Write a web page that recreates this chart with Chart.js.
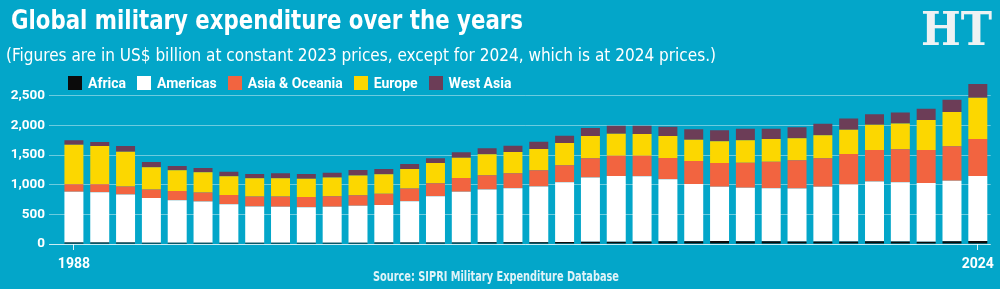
<!DOCTYPE html>
<html>
<head>
<meta charset="utf-8">
<script src="https://cdn.jsdelivr.net/npm/chart.js@4.4.1/dist/chart.umd.min.js"></script>
<style>
  html, body { margin: 0; padding: 0; }
  body {
    width: 1000px; height: 289px; overflow: hidden; position: relative;
    background: #03a6c9; color: #fff;
    font-family: 'Liberation Sans Narrow', 'DejaVu Sans Condensed', Roboto, sans-serif;
  }
  #chart { position: absolute; left: 0; top: 0; }
  .txt { position: absolute; white-space: nowrap; line-height: 1; transform-origin: 0 0; }
  #title { left: 11px; top: 7px; font-size: 26px; font-weight: bold; }
  #subtitle { left: 6px; top: 46px; font-size: 18px; }
  #source { top: 269px; font-size: 14px; font-weight: bold; color: #dff3f8; }
  #logo { left: 921px; top: 6px; font-family: 'DejaVu Serif', serif; font-size: 46px; font-weight: bold; color: #eef2f3; }
  #legend { position: absolute; left: 68px; top: 75px; display: flex; align-items: center; }
  .item { display: flex; align-items: center; margin-right: 11px; font-family: Roboto, sans-serif; font-size: 14px; font-weight: bold; }
  .sw { width: 14px; height: 14px; margin-right: 6px; }
</style>
</head>
<body>
<canvas id="chart" width="1000" height="289"></canvas>
<div id="title" class="txt">Global military expenditure over the years</div>
<div id="subtitle" class="txt">(Figures are in US$ billion at constant 2023 prices, except for 2024, which is at 2024 prices.)</div>
<div id="legend"></div>
<div id="source" class="txt">Source: SIPRI Military Expenditure Database</div>
<div id="logo" class="txt">HT</div>
<script>
// no world total for 1991 in SIPRI, so that year is skipped
let years = ["1988", "1989", "1990", "1992", "1993", "1994", "1995", "1996", "1997", "1998",
  "1999", "2000", "2001", "2002", "2003", "2004", "2005", "2006", "2007", "2008",
  "2009", "2010", "2011", "2012", "2013", "2014", "2015", "2016", "2017", "2018",
  "2019", "2020", "2021", "2022", "2023", "2024"];

let africa = [27, 26, 25, 22, 21, 22, 20, 19, 19, 21, 22, 23, 24, 25, 25, 27, 28, 29, 31, 35,
  38, 39, 44, 45, 48, 50, 48, 45, 43, 43, 44, 45, 43, 40, 45, 52];
let americas = [853, 849, 809, 752, 719, 695, 651, 612, 608, 597, 605, 621, 632, 698, 782, 853, 890, 913, 938, 1008,
  1082, 1110, 1100, 1048, 966, 914, 899, 897, 892, 921, 958, 1008, 1000, 991, 1020, 1097];
let asiaOceania = [129, 134, 135, 144, 156, 151, 156, 169, 174, 175, 180, 180, 190, 212, 219, 235, 243, 252, 276, 286,
  327, 341, 346, 359, 387, 403, 425, 447, 478, 483, 517, 533, 555, 555, 583, 622];
let europe = [666, 644, 589, 377, 349, 343, 315, 309, 309, 307, 313, 330, 331, 332, 341, 342, 353, 358, 358, 375,
  375, 370, 365, 370, 358, 365, 377, 382, 370, 386, 408, 425, 437, 505, 577, 695];
let westAsia = [74, 68, 95, 89, 72, 72, 77, 72, 84, 79, 84, 96, 90, 84, 80, 90, 101, 106, 123, 123,
  134, 135, 140, 156, 175, 185, 195, 173, 185, 195, 192, 180, 185, 190, 207, 235];

let yTicks = [0, 500, 1000, 1500, 2000, 2500];

const TICKFONT = "Roboto, sans-serif";

let datasets = [
  { label: "Africa", data: africa, backgroundColor: "#0b0b0b" },
  { label: "Americas", data: americas, backgroundColor: "#ffffff" },
  { label: "Asia & Oceania", data: asiaOceania, backgroundColor: "#f26440" },
  { label: "Europe", data: europe, backgroundColor: "#fcd700" },
  { label: "West Asia", data: westAsia, backgroundColor: "#6c3d57" }
];

let chart = new Chart("chart", {
  type: "bar",
  data: { labels: years, datasets: datasets },
  options: {
    responsive: false,
    animation: false,
    locale: "en-US",
    layout: { padding: { top: 81, right: 9, left: 0, bottom: 0 } },
    datasets: { bar: { categoryPercentage: 1, barPercentage: 0.735, borderWidth: 0 } },
    plugins: { legend: { display: false }, tooltip: { enabled: false } },
    scales: {
      x: {
        stacked: true,
        border: { display: false },
        grid: {
          offset: false,
          drawOnChartArea: false,
          tickLength: 6,
          color: (ctx) => (ctx.index === 0 || ctx.index === years.length - 1) ? "rgba(255,255,255,0.85)" : "rgba(0,0,0,0)"
        },
        ticks: {
          autoSkip: false,
          maxRotation: 0,
          padding: 6,
          color: "#ffffff",
          font: { family: TICKFONT, size: 14, weight: "bold" },
          callback: (v, i) => (i === 0 || i === years.length - 1) ? years[i] : ""
        },
        afterFit: (s) => { s.height = 45; }
      },
      y: {
        stacked: true,
        min: 0,
        max: 2750,
        border: { display: false },
        grid: {
          tickLength: 12,
          color: (ctx) => ctx.tick && ctx.tick.value === 0 ? "rgba(255,255,255,0.8)" : "rgba(255,255,255,0.42)"
        },
        ticks: {
          stepSize: 500,
          includeBounds: false,
          padding: 4,
          color: "#ffffff",
          font: { family: TICKFONT, size: 13.5, weight: "bold" }
        },
        afterBuildTicks: (s) => { s.ticks = yTicks.map(v => ({ value: v })); },
        afterFit: (s) => { s.width = 61; }
      }
    }
  }
});

// legend built from the datasets
let legend = document.getElementById("legend");
datasets.forEach(d => {
  let item = document.createElement("div");
  item.className = "item";
  let sw = document.createElement("div");
  sw.className = "sw";
  sw.style.background = d.backgroundColor;
  let t = document.createElement("span");
  t.textContent = d.label;
  item.appendChild(sw);
  item.appendChild(t);
  legend.appendChild(item);
});

function fit(id, w, center) {
  let el = document.getElementById(id);
  let natural = el.getBoundingClientRect().width;
  el.style.transform = "scaleX(" + (w / natural) + ")";
  if (center != null) el.style.left = (center - w / 2) + "px";
}
fit("title", 512);
fit("subtitle", 710);
fit("source", 246, 496);
fit("logo", 71);
</script>
</body>
</html>
